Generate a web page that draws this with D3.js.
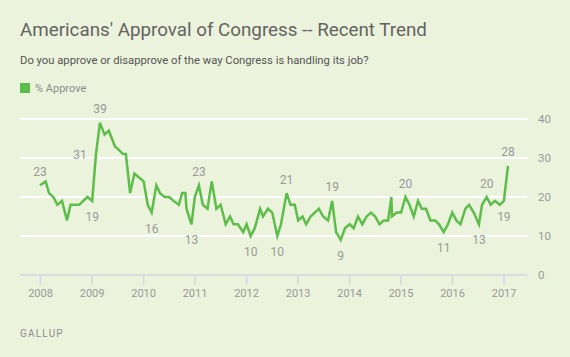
<!DOCTYPE html>
<html>
<head>
<meta charset="utf-8">
<script src="https://cdn.jsdelivr.net/npm/d3@7"></script>
<style>
  html, body { margin: 0; padding: 0; background: #ecf3dc; }
  svg { display: block; }
  text { font-family: Roboto, "Noto Sans", sans-serif; }
</style>
</head>
<body>
<svg id="chart" width="570" height="357"></svg>
<script>
const title = "Americans' Approval of Congress -- Recent Trend";
const subtitle = "Do you approve or disapprove of the way Congress is handling its job?";
const seriesName = "% Approve";
const source = "GALLUP";

const dates = [
  "2008-01-01","2008-02-10","2008-03-05","2008-04-05","2008-05-03","2008-06-05","2008-07-10","2008-08-05","2008-09-05","2008-10-05","2008-11-03","2008-12-03",
  "2009-01-05","2009-02-01","2009-03-01","2009-04-03","2009-05-03","2009-06-15","2009-07-15","2009-08-12","2009-09-01","2009-10-01","2009-11-01","2009-12-03",
  "2010-01-05","2010-02-03","2010-03-03","2010-04-05","2010-05-01","2010-06-03","2010-07-05","2010-08-05","2010-09-12","2010-10-05","2010-10-28","2010-11-05","2010-12-10",
  "2011-01-03","2011-02-01","2011-03-01","2011-04-03","2011-05-03","2011-06-05","2011-07-05","2011-08-10","2011-09-10","2011-10-05","2011-11-05","2011-12-12",
  "2012-01-05","2012-02-03","2012-03-03","2012-04-10","2012-05-01","2012-06-05","2012-07-05","2012-08-10","2012-09-05","2012-10-15","2012-11-12","2012-12-12",
  "2013-01-05","2013-02-05","2013-03-03","2013-04-03","2013-05-03","2013-06-01","2013-07-01","2013-08-05","2013-09-03","2013-10-01","2013-11-03","2013-12-03",
  "2014-01-05","2014-02-03","2014-03-05","2014-04-05","2014-05-05","2014-06-05","2014-07-05","2014-08-05","2014-09-05","2014-10-05","2014-10-28","2014-11-01","2014-12-05",
  "2015-01-05","2015-02-05","2015-03-05","2015-04-05","2015-05-05","2015-06-01","2015-07-01","2015-08-01","2015-09-03","2015-10-01","2015-11-03","2015-12-03",
  "2016-01-03","2016-02-01","2016-03-01","2016-04-05","2016-05-01","2016-06-03","2016-07-10","2016-08-01","2016-09-03","2016-10-01","2016-11-01","2016-12-05",
  "2017-01-03","2017-02-01"
];
const approve = [
  23,24,21,20,18,19,14,18,18,18,19,20,
  19,31,39,36,37,33,32,31,31,21,26,25,
  24,18,16,23,21,20,20,19,18,21,21,17,13,
  20,23,18,17,24,17,18,13,15,13,13,11,
  13,10,12,17,15,17,16,10,13,21,18,18,
  14,15,13,15,16,17,15,14,19,11,9,12,
  13,12,15,13,15,16,15,13,14,14,20,15,16,
  16,20,18,15,19,17,17,14,14,13,11,13,
  16,14,13,17,18,16,13,18,20,18,19,18,
  19,28
];
// labelled points: date, position relative to the line
const labelDates = ["2008-01-01","2009-01-05","2009-02-01","2009-03-01","2010-03-03","2010-12-10","2011-02-01","2012-02-03","2012-08-10","2012-10-15","2013-09-03","2013-11-03","2015-02-05","2015-11-03","2016-07-10","2016-09-03","2017-01-03","2017-02-01"];
const labelPos =   ["above","below","left","above","below","below","above","below","below","above","above","below","above","below","below","above","below","above"];

const yTicks = [0, 10, 20, 30, 40];
const xTickYears = [2008,2009,2010,2011,2012,2013,2014,2015,2016,2017];

const parse = d3.timeParse("%Y-%m-%d");
const data = dates.map((d, i) => ({ date: parse(d), value: approve[i], key: d }));

const svg = d3.select("#chart");
const green = "#5cbd4a";

const x = d3.scaleTime()
  .domain([new Date(2008, 0, 1), new Date(2017, 0, 1)])
  .range([40, 503.6]);
const y = d3.scaleLinear().domain([0, 40]).range([275, 119]);

// Title block
svg.append("text").attr("x", 20).attr("y", 36)
  .attr("font-size", 18.8).attr("fill", "#636363").text(title);
svg.append("text").attr("x", 20).attr("y", 63.5)
  .attr("font-size", 11.25).attr("fill", "#555").text(subtitle);
svg.append("rect").attr("x", 20).attr("y", 83).attr("width", 10).attr("height", 10).attr("fill", green);
svg.append("text").attr("x", 35).attr("y", 91.5)
  .attr("font-size", 11).attr("fill", "#8c8c8c").text(seriesName);

// Grid lines
svg.append("g").selectAll("line").data(yTicks.filter(t => t > 0)).join("line")
  .attr("x1", 20).attr("x2", 527.5)
  .attr("y1", d => y(d)).attr("y2", d => y(d))
  .attr("stroke", "#fff").attr("stroke-width", 2);

// y labels on right
svg.append("g").selectAll("text").data(yTicks).join("text")
  .attr("x", 538).attr("y", d => y(d)).attr("dy", "0.35em")
  .attr("font-size", 11.5).attr("fill", "#999").text(d => d);

// x axis
const xAxis = d3.axisBottom(x)
  .tickValues(xTickYears.map(yr => new Date(yr, 0, 1)))
  .tickFormat(d3.timeFormat("%Y"))
  .tickSize(10).tickPadding(4);
const gx = svg.append("g").attr("transform", `translate(0,${y(0)})`).call(xAxis);
gx.select(".domain").remove();
gx.selectAll(".tick line").attr("stroke", "#dcdcdc").attr("stroke-width", 2);
gx.selectAll(".tick text").attr("font-size", 11).attr("fill", "#999")
  .attr("font-family", "Roboto, 'Noto Sans', sans-serif");
svg.append("line").attr("x1", 20).attr("x2", 527.5).attr("y1", y(0)).attr("y2", y(0))
  .attr("stroke", "#dcdcdc").attr("stroke-width", 2);

// Line
const line = d3.line().x(d => x(d.date)).y(d => y(d.value));
svg.append("path").datum(data).attr("d", line)
  .attr("fill", "none").attr("stroke", green).attr("stroke-width", 2.5)
  .attr("stroke-linejoin", "miter");

// Data labels
const labels = labelDates.map((k, i) => {
  const p = data.find(d => d.key === k);
  return { ...p, pos: labelPos[i] };
});
svg.append("g").selectAll("text").data(labels).join("text")
  .attr("x", d => d.pos === "left" ? x(d.date) - 16 : x(d.date))
  .attr("y", d => d.pos === "above" ? y(d.value) - 9.5 : d.pos === "below" ? y(d.value) + 20 : y(d.value) + 4.5)
  .attr("text-anchor", "middle")
  .attr("font-size", 12).attr("fill", "#999").text(d => d.value);

// Source
svg.append("text").attr("x", 20).attr("y", 337)
  .attr("font-size", 10).attr("letter-spacing", 1.2).attr("fill", "#8c8c8c").text(source);
</script>
</body>
</html>
